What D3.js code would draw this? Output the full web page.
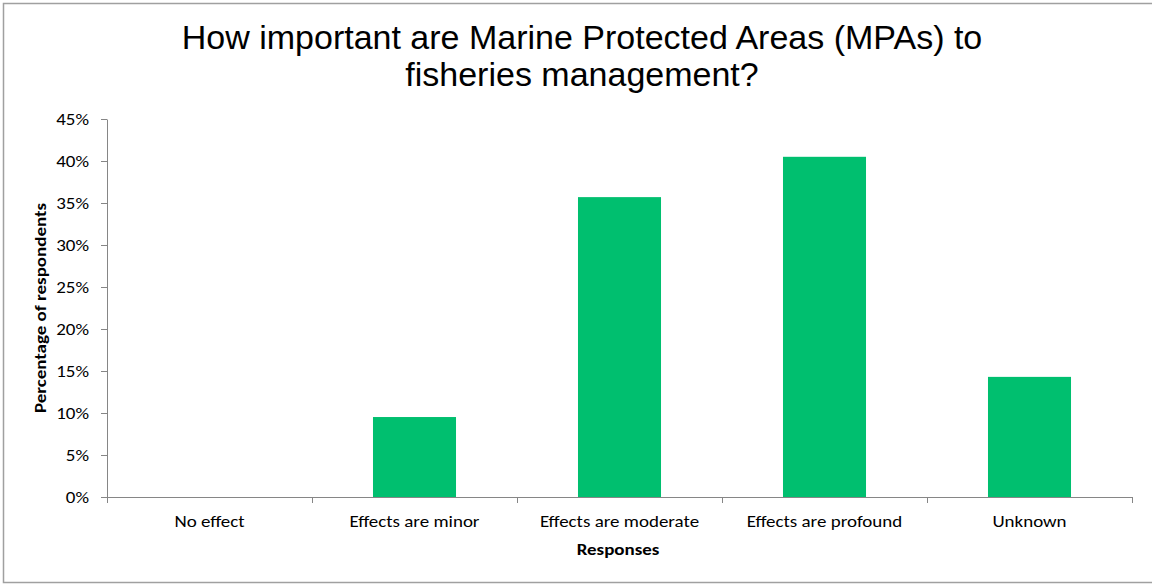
<!DOCTYPE html>
<html><head><meta charset="utf-8">
<script src="https://cdn.jsdelivr.net/npm/d3@7"></script>
<style>body{margin:0;background:#fff}svg{display:block}</style>
</head><body>
<script>
const categories = ["No effect","Effects are minor","Effects are moderate","Effects are profound","Unknown"];
const values = [0, 0.0952, 0.357, 0.405, 0.143];
const yTicks = [0,0.05,0.10,0.15,0.20,0.25,0.30,0.35,0.40,0.45];
const titleLines = ["How important are Marine Protected Areas (MPAs) to","fisheries management?"];
const yLabel = "Percentage of respondents";
const xLabel = "Responses";

const W=1152,H=584;
const m={left:107,right:1132,top:119,bottom:497};
const SX=1.15, FS=16.5;
const tf="Carlito, Calibri, 'Open Sans', sans-serif";
const svg=d3.select("body").append("svg").attr("width",W).attr("height",H);
svg.append("rect").attr("x",3.5).attr("y",3.5).attr("width",1160).attr("height",579).attr("fill","#fff").attr("stroke","#a0a0a0").attr("stroke-width",1.5);

const x=d3.scaleBand().domain(categories).range([m.left,m.right]).paddingInner(0.595).paddingOuter(0.2975);
const y=d3.scaleLinear().domain([0,0.45]).range([m.bottom,m.top]);

// bars
svg.append("g").selectAll("rect").data(values).join("rect")
 .attr("x",(d,i)=>x(categories[i])).attr("width",x.bandwidth())
 .attr("y",d=>y(d)).attr("height",d=>y(0)-y(d)).attr("fill","#00BF6F");

// y axis
const ya=svg.append("g").attr("transform",`translate(${m.left},0)`)
 .call(d3.axisLeft(y).tickValues(yTicks).tickFormat(d3.format(".0%")).tickSize(6).tickSizeOuter(0));
ya.select(".domain").attr("stroke","#868686");
ya.selectAll(".tick line").attr("stroke","#868686");
ya.selectAll(".tick text").attr("fill","#000").attr("font-family",tf).attr("font-size",FS)
 .attr("x",null).attr("dy",null).attr("dominant-baseline","central")
 .attr("transform",`translate(-18,0) scale(${SX},1)`);

// x axis with boundary ticks
const xa=svg.append("g").attr("transform",`translate(0,${m.bottom})`);
xa.append("line").attr("x1",m.left).attr("x2",m.right).attr("y1",0.5).attr("y2",0.5).attr("stroke","#868686");
const bounds=d3.range(categories.length+1).map(i=>m.left+i*(m.right-m.left)/categories.length);
xa.selectAll("line.t").data(bounds).join("line").attr("class","t")
 .attr("x1",d=>Math.round(d)+0.5).attr("x2",d=>Math.round(d)+0.5).attr("y1",0).attr("y2",6).attr("stroke","#868686");
xa.selectAll("text").data(categories).join("text")
 .attr("transform",d=>`translate(${x(d)+x.bandwidth()/2},30) scale(${SX},1)`).attr("text-anchor","middle")
 .attr("font-family",tf).attr("font-size",FS).attr("fill","#000").text(d=>d);

// axis titles
svg.append("text").attr("transform",`translate(46,308) rotate(-90) scale(${SX},1)`).attr("text-anchor","middle")
 .attr("font-family",tf).attr("font-size",FS).attr("font-weight","bold").text(yLabel);
svg.append("text").attr("transform",`translate(618,555) scale(${SX},1)`).attr("text-anchor","middle")
 .attr("font-family",tf).attr("font-size",FS).attr("font-weight","bold").text(xLabel);

// title
svg.append("g").selectAll("text").data(titleLines).join("text")
 .attr("x",582).attr("y",(d,i)=>49+i*37).attr("text-anchor","middle")
 .attr("font-family","'Liberation Sans',Arial,sans-serif").attr("font-size",34).attr("fill","#000").text(d=>d);
</script>
</body></html>
